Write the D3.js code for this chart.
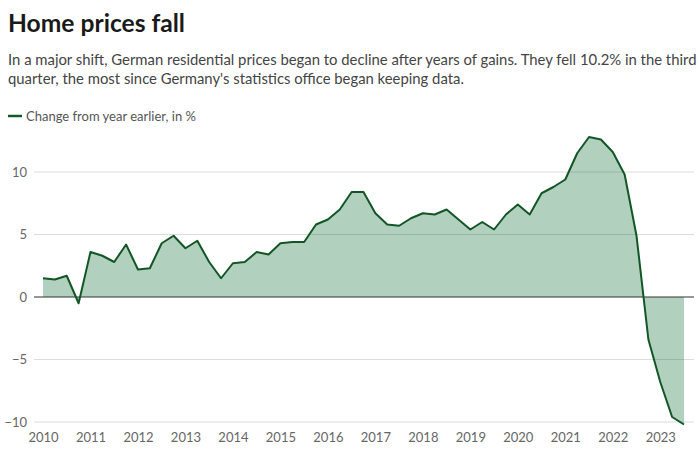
<!DOCTYPE html>
<html>
<head>
<meta charset="utf-8">
<script src="https://cdn.jsdelivr.net/npm/d3@7"></script>
<style>
  html, body { margin: 0; padding: 0; background: #fff; }
  svg { display: block; }
  text { font-family: Lato, "Open Sans", sans-serif; }
</style>
</head>
<body>
<svg id="chart" width="700" height="459"></svg>
<script>
// ---- Data (quarterly, 2010 Q1 – 2023 Q3), year-on-year change in % ----
const years = [2010, 2011, 2012, 2013, 2014, 2015, 2016, 2017, 2018, 2019, 2020, 2021, 2022, 2023];
const quarters = [1, 2, 3, 4];
const values = [
  1.5, 1.4, 1.7, -0.5,
  3.6, 3.3, 2.8, 4.2,
  2.2, 2.3, 4.3, 4.9,
  3.9, 4.5, 2.8, 1.5,
  2.7, 2.8, 3.6, 3.4,
  4.3, 4.4, 4.4, 5.8,
  6.2, 7.0, 8.4, 8.4,
  6.7, 5.8, 5.7, 6.3,
  6.7, 6.6, 7.0, 6.2,
  5.4, 6.0, 5.4, 6.6,
  7.4, 6.6, 8.3, 8.8,
  9.4, 11.5, 12.8, 12.6,
  11.6, 9.8, 4.9, -3.4,
  -6.8, -9.6, -10.2
];
const yTicks = [-10, -5, 0, 5, 10];
const xTickLabels = years;

const title = "Home prices fall";
const subtitleLines = [
  "In a major shift, German residential prices began to decline after years of gains. They fell 10.2% in the third",
  "quarter, the most since Germany's statistics office began keeping data."
];
const legendLabel = "Change from year earlier, in %";

// Build the series: time as decimal year (quarter start)
const data = values.map((v, i) => ({
  t: years[0] + Math.floor(i / 4) + (i % 4) / 4,
  v: v
}));

const svg = d3.select("#chart");

const x = d3.scaleLinear().domain([2010, 2023.5]).range([43, 684]);
const y = d3.scaleLinear().domain([-10, 10]).range([422, 172]);

// Title
svg.append("text")
  .attr("x", 8).attr("y", 32)
  .attr("font-size", 25).attr("font-weight", 700)
  .attr("fill", "#1a1a1a")
  .attr("textLength", 177)
  .attr("lengthAdjust", "spacingAndGlyphs")
  .text(title);

// Subtitle (fit first line width)
const sub = svg.append("g");
const subTexts = subtitleLines.map((s, i) => sub.append("text")
  .attr("x", 8).attr("y", 65 + i * 19)
  .attr("font-size", 15)
  .attr("fill", "#444")
  .text(s));
const w0 = subTexts[0].node().getComputedTextLength();
const fs = 15 * 689 / w0;
subTexts.forEach(t => t.attr("font-size", fs));

// Legend
svg.append("line")
  .attr("x1", 8).attr("x2", 22).attr("y1", 116).attr("y2", 116)
  .attr("stroke", "#145a2a").attr("stroke-width", 2.5);
svg.append("text")
  .attr("x", 26).attr("y", 120.5)
  .attr("font-size", 13).attr("fill", "#555")
  .text(legendLabel);

// Grid lines
svg.append("g").selectAll("line")
  .data(yTicks.filter(d => d !== 0))
  .join("line")
  .attr("x1", 34).attr("x2", 694)
  .attr("y1", d => y(d)).attr("y2", d => y(d))
  .attr("stroke", "#dcdcdc").attr("stroke-width", 1);

// Y labels
svg.append("g").selectAll("text")
  .data(yTicks)
  .join("text")
  .attr("x", 27).attr("y", d => y(d) + 4.5)
  .attr("text-anchor", "end")
  .attr("font-size", 13).attr("fill", "#666")
  .text(d => d < 0 ? "\u2212" + Math.abs(d) : d);

// Area
const area = d3.area()
  .x(d => x(d.t))
  .y0(y(0))
  .y1(d => y(d.v));
svg.append("path")
  .datum(data)
  .attr("d", area)
  .attr("fill", "#006428")
  .attr("fill-opacity", 0.3);

// Zero line
svg.append("line")
  .attr("x1", 34).attr("x2", 694)
  .attr("y1", y(0)).attr("y2", y(0))
  .attr("stroke", "#333").attr("stroke-width", 1.2);

// Line
const line = d3.line()
  .x(d => x(d.t))
  .y(d => y(d.v));
svg.append("path")
  .datum(data)
  .attr("d", line)
  .attr("fill", "none")
  .attr("stroke", "#125626")
  .attr("stroke-width", 2)
  .attr("stroke-linejoin", "round");

// X axis labels
const xAxis = d3.axisBottom(x)
  .tickValues(xTickLabels)
  .tickFormat(d3.format("d"))
  .tickSize(0)
  .tickPadding(0);
const gx = svg.append("g")
  .attr("transform", `translate(0, 433)`)
  .call(xAxis);
gx.select(".domain").remove();
gx.selectAll("text")
  .attr("font-size", 13)
  .attr("fill", "#666")
  .attr("font-family", "Lato, 'Open Sans', sans-serif");
</script>
</body>
</html>
